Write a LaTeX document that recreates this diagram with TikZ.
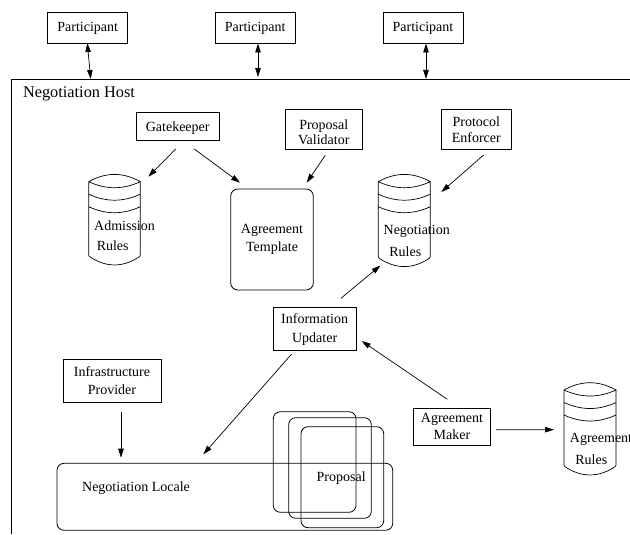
\documentclass[tikz,border=0pt]{standalone}
\usepackage{fontspec}
\setmainfont{Liberation Serif}
\usetikzlibrary{arrows.meta}
\tikzset{
  every node/.style={inner sep=0pt,outer sep=0pt},
  lbl/.style={font=\fontsize{14}{17}\selectfont,align=center},
  boxn/.style={draw,line width=0.8pt,align=center,font=\fontsize{14}{#1}\selectfont},
  boxn/.default=17,
  rbox/.style={draw,line width=0.8pt,rounded corners=7pt},
  cyln/.style={},
  conn/.style={line width=0.7pt,-{Triangle[length=9pt,width=5.5pt]}},
  conn2/.style={line width=0.7pt,{Triangle[length=9pt,width=5.5pt]}-{Triangle[length=9pt,width=5.5pt]}}
}
% #1 left, #2 right, #3 y of top side ends, #4 y of bottom side ends
\newcommand{\drumshape}[4]{%
  \pgfmathsetmacro{\wthird}{(#2-#1)/3}%
  \draw[line width=0.7pt]
    (#1,#3) .. controls (#1+\wthird,#3-9.7) and (#2-\wthird,#3-9.7) .. (#2,#3)
            .. controls (#2-\wthird,#3+8) and (#1+\wthird,#3+8) .. (#1,#3)
    (#1,#3) -- (#1,#4-1.5) -- (#1+1,#4)
            .. controls (#1+\wthird,#4+11) and (#2-\wthird,#4+11) .. (#2-1,#4)
            -- (#2,#4-1.5) -- (#2,#3)
    (#1,#3+12.5) .. controls (#1+\wthird,#3+20.5) and (#2-\wthird,#3+20.5) .. (#2,#3+12.5)
    (#1,#3+25) .. controls (#1+\wthird,#3+33) and (#2-\wthird,#3+33) .. (#2,#3+25);
}
\begin{document}
\begin{tikzpicture}[x=1pt,y=-1pt]
\useasboundingbox (0,0) rectangle (630,535);
\clip (0,0) rectangle (630,535);
% host frame
\draw[line width=0.8pt] (630,79) -- (11.5,79) -- (11.5,534);
\node[lbl,font=\fontsize{16.3}{18}\selectfont] (hostlbl) at (79,93.7) {Negotiation Host};
\coordinate (h1) at (90.7,79);
\coordinate (h2) at (258,77);
\coordinate (h3) at (426,79);
% participants
\node[boxn,minimum width=80pt,minimum height=31pt,text height=8.5pt,text depth=0pt] (p1) at (87.7,27.5) {Participant};
\node[boxn,minimum width=80pt,minimum height=31pt,text height=8.5pt,text depth=0pt] (p2) at (255.2,27.5) {Participant};
\node[boxn,minimum width=80pt,minimum height=31pt,text height=8.5pt,text depth=0pt] (p3) at (423,27.5) {Participant};
% agents
\node[boxn,minimum width=82.7pt,minimum height=28.2pt,text height=11pt,text depth=0pt] (gate) at (177.7,126.4) {Gatekeeper};
\node[boxn=15,minimum width=77pt,minimum height=40.2pt] (val) at (323.8,129.4) {\rule{0pt}{14.5pt}Proposal\\Validator};
\node[boxn=16,minimum width=70.7pt,minimum height=40.2pt] (enf) at (476.35,129.4) {Protocol\\Enforcer};
\node[boxn=19,minimum width=82.7pt,minimum height=43pt] (info) at (314.65,329.2) {Information\\Updater};
\node[boxn=18,minimum width=98pt,minimum height=43pt] (infra) at (112,380.8) {Infrastructure\\Provider};
\node[boxn=17.5,minimum width=76.6pt,minimum height=36.7pt] (maker) at (452,426.65) {Agreement\\Maker};
% template
\node[rbox,minimum width=82.6pt,minimum height=101pt,lbl,font=\fontsize{14}{18}\selectfont] (tmpl) at (272,239.5) {Agreement\\Template};
% locale and proposals
\node[rbox,minimum width=335.7pt,minimum height=67pt] (loc) at (224.85,496.8) {};
\node[lbl] (loclbl) at (136,487.7) {Negotiation Locale};
\node[rbox,minimum width=82.7pt,minimum height=100.6pt] (pa) at (314.65,462) {};
\node[rbox,minimum width=82.6pt,minimum height=100.6pt] (pb) at (330,468) {};
\node[rbox,minimum width=82.7pt,minimum height=101pt] (pc) at (342.35,477.2) {};
\node[lbl] (proplbl) at (341.2,478.3) {Proposal};
% drums
\node[cyln,minimum width=51.6pt,minimum height=91.4pt] (adm) at (114.5,220) {};
\drumshape{88.7}{140.3}{181.7}{256.7}
\node[lbl] (admt) at (124.5,225.5) {Admission};
\node[lbl] (admr) at (112.7,246) {Rules};
\node[cyln,minimum width=52pt,minimum height=92.7pt] (neg) at (404.3,220.35) {};
\drumshape{378.3}{430.3}{181.7}{258.3}
\node[lbl] (negt) at (416.7,231.7) {Negotiation};
\node[lbl] (negr) at (405.3,251.6) {Rules};
\node[cyln,minimum width=52pt,minimum height=91.3pt] (agr) at (590,428.35) {};
\drumshape{564}{616}{390}{466.7}
\node[lbl] (agrt) at (601,439.3) {Agreement};
\node[lbl] (agrr) at (591.3,459.6) {Rules};
% connectors
\draw[conn2] ([shift={(-0.4,0)}]p1.south) -- (h1);
\draw[conn2] ([shift={(2.8,0.5)}]p2.south) -- (h2);
\draw[conn2] ([shift={(3,0.5)}]p3.south) -- (h3);
\draw[conn] ([shift={(-2,8.5)}]gate.south) -- ([shift={(8,2.4)}]adm.north east);
\draw[conn] ([shift={(16.6,8.5)}]gate.south) -- ([shift={(9.3,-6.3)}]tmpl.north west);
\draw[conn] ([shift={(1.5,5.8)}]val.south) -- ([shift={(-6.6,-6.3)}]tmpl.north east);
\draw[conn] ([shift={(7.3,5.5)}]enf.south) -- ([shift={(11,18)}]neg.north east);
\draw[conn] ([shift={(26.3,-9.4)}]info.north) -- ([shift={(2.2,-1.2)}]neg.south west);
\draw[conn] ([shift={(18.4,3.3)}]info.south west) -- ([shift={(-21.5,-9)}]loc.north);
\draw[conn] ([shift={(-4.7,-9)}]maker.north) -- ([shift={(5.7,11.8)}]info.east);
\draw[conn] ([shift={(5.7,3)}]maker.east) -- ([shift={(-10,1.35)}]agr.west);
\draw[conn] ([shift={(9,9.4)}]infra.south) -- ([shift={(64,-5.6)}]loc.north west);
\end{tikzpicture}
\end{document}
